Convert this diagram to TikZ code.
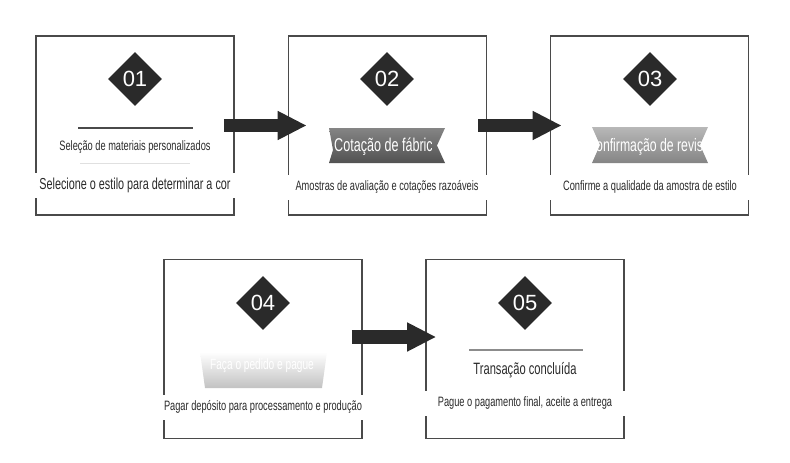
\documentclass[tikz,border=0pt]{standalone}
\usepackage{fontspec}
\setmainfont{Liberation Sans}
\newfontfamily\narrowfont[FakeStretch=0.68]{Liberation Sans}
\usetikzlibrary{shapes.geometric,arrows.meta}
\definecolor{inkdark}{HTML}{2A2A2A}
\definecolor{framegray}{HTML}{4A4A4A}
\tikzset{
    stepbox/.style={draw=framegray, line width=1.6pt, minimum width=198pt, minimum height=179pt, inner sep=0pt},
    badge/.style={diamond, aspect=1, fill=inkdark, text=white, minimum width=54pt, minimum height=54pt, inner sep=0pt, font=\fontsize{22}{22}\selectfont},
    caption/.style={text=inkdark, inner sep=1pt, font=\narrowfont\fontsize{13.6}{15}\selectfont},
    band/.style={fill=white, text=inkdark, minimum width=204pt, minimum height=25pt, inner sep=0pt, font=\narrowfont\fontsize{13.6}{15}\selectfont},
    ribbontext/.style={text=white, inner sep=0pt, font=\narrowfont\fontsize{18.5}{20}\selectfont},
    flow/.style={draw=inkdark, line width=13.5pt, -{Triangle[length=29pt,width=27pt]}}
}
\begin{document}
\begin{tikzpicture}[x=1pt,y=-1pt]
        \useasboundingbox (0,0) rectangle (790,463);
        % the five steps
        \node[stepbox] (b1) at (135,125.5) {};
        \node[stepbox] (b2) at (387.5,125.5) {};
        \node[stepbox] (b3) at (649.5,125.5) {};
        \node[stepbox] (b4) at (263,349) {};
        \node[stepbox] (b5) at (525,349) {};
        \node[badge] (n1) at (135,79) {01};
        \node[badge] (n2) at (387,79) {02};
        \node[badge] (n3) at (650,79) {03};
        \node[badge] (n4) at (263,303) {04};
        \node[badge] (n5) at (525,303) {05};
        % step 1
        \draw[framegray, line width=1.2pt] (78,128) -- (193,128);
        \node[caption] (t1) at (135,147) {Seleção de materiais personalizados};
        \draw[black!12, line width=1pt] (80,163) -- (190,163);
        \node[band, font=\narrowfont\fontsize{15.9}{17}\selectfont] (d1) at (135,185) {Selecione o estilo para determinar a cor};
        % step 2
        \shade[top color=black!48, bottom color=black!68] (329,128) -- (445,128) -- (437,145.5) -- (445,163) -- (329,163) -- (333,150) -- cycle;
        \begin{scope}
            \clip (320,120) rectangle (431,170);
            \node[ribbontext] (t2) at (387,147) {Cotação de fábrica};
        \end{scope}
        \node[band] (d2) at (387,187) {Amostras de avaliação e cotações razoáveis};
        % step 3
        \shade[top color=black!28, bottom color=black!48] (592,127) -- (708,127) -- (700,145) -- (708,163) -- (592,163) -- (600,145) -- cycle;
        \node[ribbontext, font=\narrowfont\fontsize{18}{20}\selectfont] (t3) at (652,147) {Confirmação de revisão};
        \node[band] (d3) at (650,187) {Confirme a qualidade da amostra de estilo};
        % step 4
        \shade[top color=white, bottom color=black!24] (200,352) -- (327,352) -- (322,388) -- (205,388) -- cycle;
        \node[ribbontext, font=\narrowfont\fontsize{14.9}{16}\selectfont] (t4) at (262,366) {Faça o pedido e pague};
        \node[band] (d4) at (263,407) {Pagar depósito para processamento e produção};
        % step 5
        \draw[black!45, line width=1.2pt] (469,350) -- (583,350);
        \node[caption, font=\narrowfont\fontsize{16.4}{18}\selectfont] (t5) at (525,370) {Transação concluída};
        \node[band] (d5) at (525,403) {Pague o pagamento final, aceite a entrega};
        % arrows
        \draw[flow] ([shift={(-11,0)}]b1.east) -- ([shift={(19,0)}]b2.west);
        \draw[flow] ([shift={(-9,0)}]b2.east) -- ([shift={(12,0)}]b3.west);
        \draw[flow] ([shift={(-11,-12)}]b4.east) -- ([shift={(11,-12)}]b5.west);
    \end{tikzpicture}
\end{document}
